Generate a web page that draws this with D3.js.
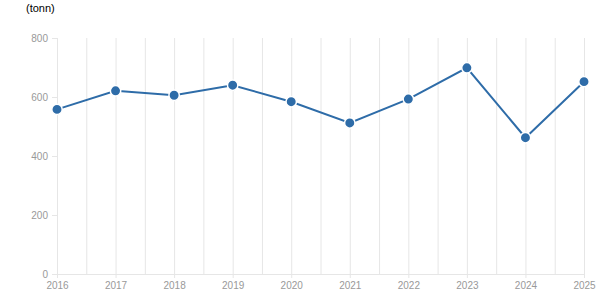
<!DOCTYPE html>
<html>
<head>
<meta charset="utf-8">
<script src="https://cdn.jsdelivr.net/npm/d3@7"></script>
<style>
  body { margin: 0; background: #fff; }
  svg { font-family: "Liberation Sans", Arial, sans-serif; }
</style>
</head>
<body>
<div id="chart"></div>
<script>
'use strict'

const years = [2016, 2017, 2018, 2019, 2020, 2021, 2022, 2023, 2024, 2025];
const values = [558, 621, 606, 640, 584, 512, 593, 699, 462, 652];
const yTicks = [0, 200, 400, 600, 800];
const unitLabel = '(tonn)';

let svg = d3.select('#chart')
  .append('svg')
  .attr('width', 615)
  .attr('height', 305);

let margin = {top: 38, right: 31, bottom: 31, left: 57},
    width = 615 - margin.left - margin.right,
    height = 305 - margin.top - margin.bottom;

let x = d3.scaleLinear().domain([years[0], years[years.length - 1]]).range([0, width]),
    y = d3.scaleLinear().domain([0, 800]).range([height, 0]);

let g = svg.append('g')
  .attr('transform', 'translate(' + margin.left + ',' + margin.top + ')');

// vertical grid: each year plus half-years
let gridVals = [];
for (let i = 0; i < years.length; i++) {
  gridVals.push(years[i]);
  if (i < years.length - 1) gridVals.push(years[i] + 0.5);
}
g.selectAll('.grid')
  .data(gridVals)
  .enter().append('line')
  .attr('class', 'grid')
  .attr('x1', d => x(d) + 0.5)
  .attr('x2', d => x(d) + 0.5)
  .attr('y1', 0)
  .attr('y2', height)
  .attr('stroke', '#e6e6e6')
  .attr('stroke-width', 1);

let yAxis = d3.axisLeft(y).tickValues(yTicks).tickSize(5).tickPadding(4);
let yg = g.append('g').call(yAxis);
yg.select('.domain').attr('stroke', '#e6e6e6').attr('d', 'M-5,0.5H0.5V' + (height + 0.5));
yg.selectAll('.tick line').attr('stroke', '#e6e6e6');
yg.selectAll('.tick text').attr('fill', '#999').style('font-size', '10px');

let xAxis = d3.axisBottom(x).tickValues(years).tickFormat(d3.format('d')).tickSize(4).tickPadding(4);
let xg = g.append('g')
  .attr('transform', 'translate(0,' + height + ')')
  .call(xAxis);
xg.select('.domain').attr('stroke', '#e6e6e6').attr('d', 'M0,0.5H' + (width + 0.5));
xg.selectAll('.tick line').attr('stroke', '#e6e6e6');
xg.selectAll('.tick text').attr('fill', '#999').style('font-size', '10px');

let data = years.map((yr, i) => ({year: yr, value: values[i]}));

let line = d3.line()
  .x(d => x(d.year))
  .y(d => y(d.value));

g.append('path')
  .datum(data)
  .attr('fill', 'none')
  .attr('stroke', '#2e6ca8')
  .attr('stroke-width', 2)
  .attr('d', line);

g.selectAll('.dot')
  .data(data)
  .enter().append('circle')
  .attr('class', 'dot')
  .attr('cx', d => x(d.year))
  .attr('cy', d => y(d.value))
  .attr('r', 5.2)
  .attr('fill', '#2e6ca8')
  .attr('stroke', '#fff')
  .attr('stroke-width', 1.5);

svg.append('text')
  .attr('x', 26)
  .attr('y', 12)
  .attr('fill', '#000')
  .style('font-size', '11px')
  .text(unitLabel);
</script>
</body>
</html>
